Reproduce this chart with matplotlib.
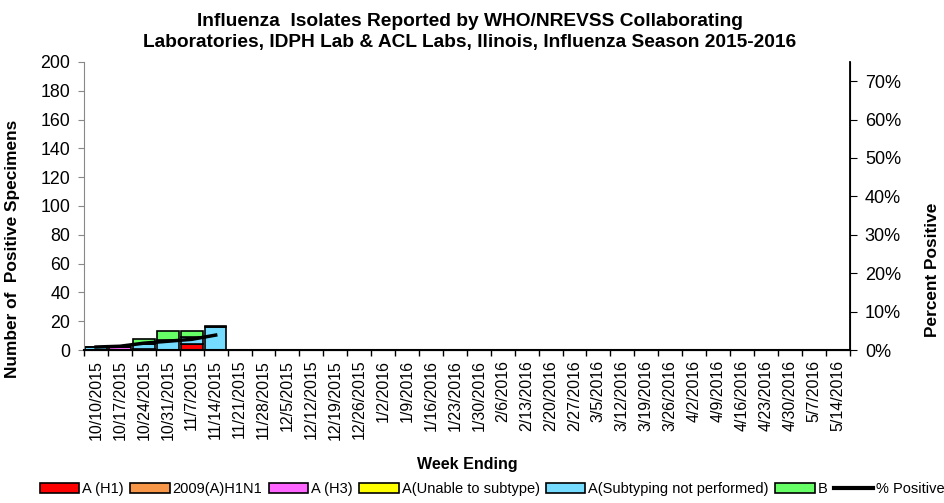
import matplotlib

matplotlib.use("Agg")
import matplotlib.pyplot as plt
import numpy as np
from matplotlib.patches import Patch
from matplotlib.lines import Line2D

plt.rcParams["font.family"] = ["Liberation Sans", "DejaVu Sans"]

weeks = [
    "10/10/2015", "10/17/2015", "10/24/2015", "10/31/2015", "11/7/2015", "11/14/2015",
    "11/21/2015", "11/28/2015", "12/5/2015", "12/12/2015", "12/19/2015", "12/26/2015",
    "1/2/2016", "1/9/2016", "1/16/2016", "1/23/2016", "1/30/2016", "2/6/2016",
    "2/13/2016", "2/20/2016", "2/27/2016", "3/5/2016", "3/12/2016", "3/19/2016",
    "3/26/2016", "4/2/2016", "4/9/2016", "4/16/2016", "4/23/2016", "4/30/2016",
    "5/7/2016", "5/14/2016",
]
n_reported = 6
a_h1 = [0, 0, 1, 0, 4, 0]
h1n1_2009 = [0, 0, 0, 0, 0, 0]
a_h3 = [0, 2, 0, 0, 0, 0]
a_unable = [0, 0, 0, 0, 0, 0]
a_not_subtyped = [2, 0, 3, 7, 5, 16]
b_flu = [0, 0, 4, 6, 4, 1]
pct_positive = [0.8, 1.0, 1.8, 2.3, 2.8, 3.9]

series = [
    ("A (H1)", a_h1, "#ff0000"),
    ("2009(A)H1N1", h1n1_2009, "#f79646"),
    ("A (H3)", a_h3, "#ff66ff"),
    ("A(Unable to subtype)", a_unable, "#ffff00"),
    ("A(Subtyping not performed)", a_not_subtyped, "#75dcff"),
    ("B", b_flu, "#66ff66"),
]

fig = plt.figure(figsize=(9.45, 5.03), dpi=100)
ax = fig.add_axes([0.089, 0.304, 0.81, 0.573])
x = np.arange(len(weeks))
xr = np.arange(n_reported)
bottom = np.zeros(n_reported)
for name, vals, color in series:
    vals = np.asarray(vals, dtype=float)
    ax.bar(xr, vals, width=0.9, bottom=bottom, color=color, edgecolor="black", linewidth=1.2)
    bottom += vals

ax.set_xlim(-0.5, len(weeks) - 0.5)
ax.set_ylim(0, 200)
ax.set_yticks(range(0, 201, 20))
ax.set_xticks(x)
ax.set_xticklabels(weeks, rotation=90, fontsize=11.5)
ax.set_xticks(np.arange(len(weeks) + 1) - 0.5, minor=True)
ax.tick_params(axis="x", which="major", length=0, pad=7)
ax.tick_params(axis="x", which="minor", length=4, width=1, direction="out")
ax.tick_params(axis="y", labelsize=12.8, length=4, direction="out", color="#888888", pad=6)
ax.spines["top"].set_visible(False)
ax.spines["bottom"].set_linewidth(1.5)
ax.spines["left"].set_color("#888888")
ax.set_ylabel("Number of  Positive Specimens", fontsize=12.4, fontweight="bold")
ax.yaxis.set_label_coords(-0.0836, 0.35)
ax.set_xlabel("Week Ending", fontsize=11.5, fontweight="bold")
ax.xaxis.set_label_coords(0.501, -0.37)

ax2 = ax.twinx()
ax2.plot(xr, pct_positive, color="black", linewidth=2.5)
ax2.set_ylim(0, 75)
ax2.set_yticks(range(0, 71, 10))
ax2.set_yticklabels([f"{v}%" for v in range(0, 71, 10)])
ax2.tick_params(axis="y", labelsize=13, length=5, direction="out", pad=6)
ax2.spines["top"].set_visible(False)
ax2.spines["left"].set_visible(False)
ax2.spines["right"].set_linewidth(1.3)
ax2.set_ylabel("Percent Positive", fontsize=12.4, fontweight="bold")
ax2.yaxis.set_label_coords(1.098, 0.28)

fig.text(0.497, 0.958, "Influenza  Isolates Reported by WHO/NREVSS Collaborating",
         ha="center", va="center", fontsize=13.8, fontweight="bold")
fig.text(0.497, 0.915, "Laboratories, IDPH Lab & ACL Labs, Ilinois, Influenza Season 2015-2016",
         ha="center", va="center", fontsize=13.8, fontweight="bold")

handles = [Patch(facecolor=c, edgecolor="black", linewidth=1.2, label=n) for n, _, c in series]
handles.append(Line2D([0], [0], color="black", linewidth=3, label="% Positive"))
fig.legend(handles=handles, loc="lower center", bbox_to_anchor=(0.521, -0.012), ncol=7,
           frameon=False, fontsize=10.5, handlelength=2.7, handleheight=0.7,
           handletextpad=0.2, columnspacing=0.45)

fig.savefig("out.png", dpi=100)
